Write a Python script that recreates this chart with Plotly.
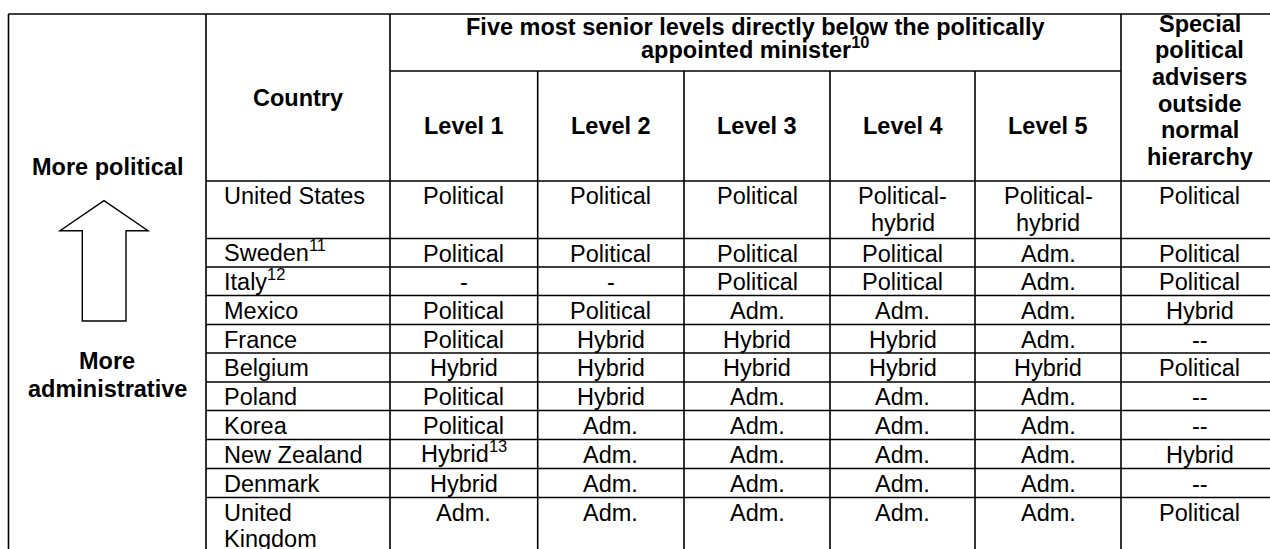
import plotly.graph_objects as go

# ---------------- data ----------------
countries = ["United States", "Sweden<sup>11</sup>", "Italy<sup>12</sup>", "Mexico", "France",
             "Belgium", "Poland", "Korea", "New Zealand", "Denmark", "United\nKingdom"]
level_1 = ["Political", "Political", "-", "Political", "Political", "Hybrid", "Political",
           "Political", "Hybrid<sup>13</sup>", "Hybrid", "Adm."]
level_2 = ["Political", "Political", "-", "Political", "Hybrid", "Hybrid", "Hybrid",
           "Adm.", "Adm.", "Adm.", "Adm."]
level_3 = ["Political", "Political", "Political", "Adm.", "Hybrid", "Hybrid", "Adm.",
           "Adm.", "Adm.", "Adm.", "Adm."]
level_4 = ["Political-\nhybrid", "Political", "Political", "Adm.", "Hybrid", "Hybrid", "Adm.",
           "Adm.", "Adm.", "Adm.", "Adm."]
level_5 = ["Political-\nhybrid", "Adm.", "Adm.", "Adm.", "Adm.", "Hybrid", "Adm.",
           "Adm.", "Adm.", "Adm.", "Adm."]
special = ["Political", "Political", "Political", "Hybrid", "--", "Political", "--",
           "--", "Hybrid", "--", "Political"]

country_header = "Country"
group_header = ["Five most senior levels directly below the politically",
                "appointed minister<sup>10</sup>"]
level_headers = ["Level 1", "Level 2", "Level 3", "Level 4", "Level 5"]
special_header = ["Special", "political", "advisers", "outside", "normal", "hierarchy"]
side_top = ["More political"]
side_bottom = ["More", "administrative"]

# ---------------- geometry / style ----------------
W, H = 1270, 549
FONT = "Liberation Sans, Arial, sans-serif"
FS = 23.5
LINE = 1.6
LSP = 26.5
SUP_SHIFT = 2.5
col_edges = [8.5, 206, 390, 537.7, 684, 830, 975, 1121, 1277]
hdr_top, hdr_mid, hdr_bot = 14, 71, 181
row_lines = [181, 238.5, 267, 295.5, 324.5, 353, 382, 410.5, 439.5, 468.5, 497.5, 560]

fig = go.Figure()
shapes = []
annots = []


def hline(y, x0, x1):
    shapes.append(dict(type="line", xref="x", yref="y", x0=x0, x1=x1, y0=y, y1=y,
                       line=dict(color="black", width=LINE)))


def vline(x, y0, y1):
    shapes.append(dict(type="line", xref="x", yref="y", x0=x, x1=x, y0=y0, y1=y1,
                       line=dict(color="black", width=LINE)))


def text(x, y, s, bold=False, anchor="center"):
    if "<sup>" in s:
        y -= SUP_SHIFT
    if bold:
        s = "<b>" + s + "</b>"
    annots.append(dict(x=x, y=y, xref="x", yref="y", text=s, showarrow=False,
                       xanchor=anchor, yanchor="middle",
                       font=dict(family=FONT, size=FS, color="black")))


# grid lines
hline(hdr_top, col_edges[0], W + 10)
hline(hdr_mid, col_edges[2], col_edges[7])
for y in row_lines[:-1]:
    hline(y, col_edges[1], W + 10)
vline(col_edges[0], hdr_top, H + 10)
vline(col_edges[1], hdr_top, H + 10)
vline(col_edges[2], hdr_top, H + 10)
for x in col_edges[3:7]:
    vline(x, hdr_mid, H + 10)
vline(col_edges[7], hdr_top, H + 10)

# headers
text((col_edges[1] + col_edges[2]) / 2, (hdr_top + hdr_bot) / 2, country_header, bold=True)
gx = (col_edges[2] + col_edges[7]) / 2
text(gx, 27, group_header[0], bold=True)
text(gx, 50.5, group_header[1], bold=True)
for i, s in enumerate(level_headers):
    text((col_edges[2 + i] + col_edges[3 + i]) / 2, (hdr_mid + hdr_bot) / 2, s, bold=True)
sx = 1199.5
for i, s in enumerate(special_header):
    text(sx, 23.5 + i * 26.7, s, bold=True)

# side column
side_x = (col_edges[0] + col_edges[1]) / 2
text(side_x, 166.5, side_top[0], bold=True)
for i, s in enumerate(side_bottom):
    text(side_x, 360.5 + i * 28.5, s, bold=True)
shapes.append(dict(type="path", xref="x", yref="y",
                   path="M104,200.7 L148,230.7 L126,230.7 L126,321 L82.3,321 L82.3,230.7 L60,230.7 Z",
                   line=dict(color="black", width=1.4), fillcolor="white"))

# body
columns = [level_1, level_2, level_3, level_4, level_5, special]
for r in range(len(countries)):
    y0 = row_lines[r] + 15
    for k, s in enumerate(countries[r].split("\n")):
        text(col_edges[1] + 15.5, y0 + k * LSP, s, anchor="left")
    for c, col in enumerate(columns):
        cx = (col_edges[2 + c] + col_edges[3 + c]) / 2
        if c == 5:
            cx = sx
        for k, s in enumerate(col[r].split("\n")):
            text(cx, y0 + k * LSP, s)

fig.update_layout(
    width=W, height=H, margin=dict(l=0, r=0, t=0, b=0),
    paper_bgcolor="white", plot_bgcolor="white",
    xaxis=dict(range=[0, W], visible=False, fixedrange=True),
    yaxis=dict(range=[H, 0], visible=False, fixedrange=True),
    shapes=shapes, annotations=annots, showlegend=False,
)
fig.write_html("out.html", config={"displayModeBar": False},
               post_script="document.body.style.margin='0';document.body.style.overflow='hidden';")
